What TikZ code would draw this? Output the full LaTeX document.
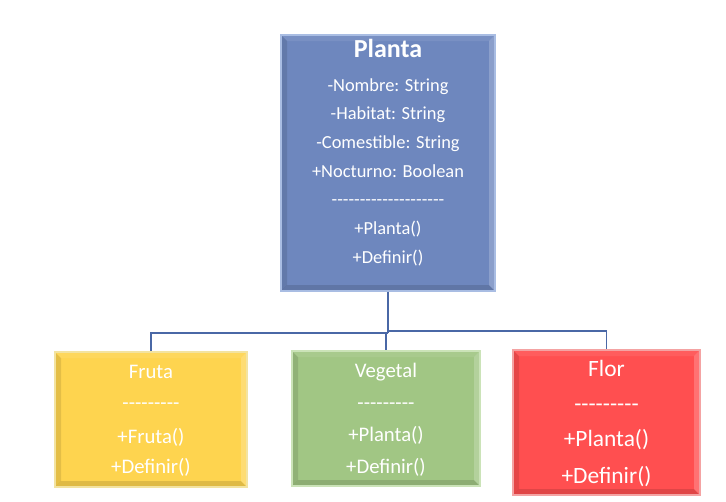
\documentclass[tikz,border=0pt]{standalone}
\usepackage{fontspec}
\setmainfont{Carlito}[Ligatures=TeXOff]
\definecolor{plantafill}{HTML}{6E87BE}
\definecolor{plantaedge}{HTML}{A9BDE3}
\definecolor{frutafill}{HTML}{FED44F}
\definecolor{frutaedge}{HTML}{F3E3A0}
\definecolor{vegfill}{HTML}{A1C684}
\definecolor{vegedge}{HTML}{CBE3B8}
\definecolor{florfill}{HTML}{FF4F50}
\definecolor{floredge}{HTML}{F4A3A3}
\definecolor{linkcol}{HTML}{4A68A6}
\begin{document}
\begin{tikzpicture}[x=1pt,y=-1pt]
\tikzset{
  bevel/.style={path picture={
    \coordinate (bnw) at (path picture bounding box.north west);
    \coordinate (bne) at (path picture bounding box.north east);
    \coordinate (bsw) at (path picture bounding box.south west);
    \coordinate (bse) at (path picture bounding box.south east);
    \fill[black,opacity=.10] (bnw) -- (bsw) -- ([shift={(6,-6)}]bsw) -- ([shift={(6,6)}]bnw) -- cycle;
    \fill[white,opacity=.08] (bnw) -- (bne) -- ([shift={(-6,6)}]bne) -- ([shift={(6,6)}]bnw) -- cycle;
    \fill[white,opacity=.20] (bne) -- (bse) -- ([shift={(-6,-6)}]bse) -- ([shift={(-6,6)}]bne) -- cycle;
    \fill[black,opacity=.12] (bsw) -- (bse) -- ([shift={(-6,-6)}]bse) -- ([shift={(6,-6)}]bsw) -- cycle;
  }},
  cls/.style={rectangle, inner sep=0pt, line width=1.2pt, bevel},
  txt/.style={text=white, anchor=base, inner sep=0pt},
  small/.style={txt, font=\fontsize{18.4}{22}\selectfont},
  mid/.style={txt, font=\fontsize{20.7}{24}\selectfont},
  big/.style={txt, font=\fontsize{23.4}{28}\selectfont},
  link/.style={draw=linkcol, line width=1.1pt}
}
\useasboundingbox (0,0) rectangle (726,501);

% class boxes
\node[cls, fill=plantafill, draw=plantaedge, minimum width=214pt, minimum height=256pt] (planta) at (388,163) {};
\node[cls, fill=frutafill, draw=frutaedge, minimum width=192pt, minimum height=135pt] (fruta) at (151,419.5) {};
\node[cls, fill=vegfill, draw=vegedge, minimum width=188pt, minimum height=135pt] (vegetal) at (386,418.5) {};
\node[cls, fill=florfill, draw=floredge, minimum width=187pt, minimum height=145pt] (flor) at (606.5,422.5) {};

% Planta texts
\node[txt, font=\bfseries\fontsize{26}{30}\selectfont] (ptitle) at (388,57) {Planta};
\foreach \t [count=\i] in {-Nombre: String, -Habitat: String, -Comestible: String, +Nocturno: Boolean, --------------------, +Planta(), +Definir()}
  \node[small] (pl\i) at (388,{91+(\i-1)*28.7}) {\t};

% Fruta texts
\node[mid] (f1) at (151,378) {Fruta};
\node[mid] (f2) at (151,409) {---------};
\node[mid] (f3) at (151,443) {+Fruta()};
\node[mid] (f4) at (151,473) {+Definir()};

% Vegetal texts
\node[mid] (v1) at (386,377) {Vegetal};
\node[mid] (v2) at (386,409) {---------};
\node[mid] (v3) at (386,441) {+Planta()};
\node[mid] (v4) at (386,473) {+Definir()};

% Flor texts
\node[big] (c1) at (606.5,376) {Flor};
\node[big] (c2) at (606.5,411) {---------};
\node[big] (c3) at (606.5,446) {+Planta()};
\node[big] (c4) at (606.5,483) {+Definir()};

% connectors
\coordinate (jl) at (388,333);
\coordinate (jr) at (388,331);
\draw[link] (planta.south) -- (jl);
\draw[link] (jl) -| (fruta.north);
\draw[link] (jl) -| (vegetal.north);
\draw[link] (jr) -| (flor.north);
\end{tikzpicture}
\end{document}
